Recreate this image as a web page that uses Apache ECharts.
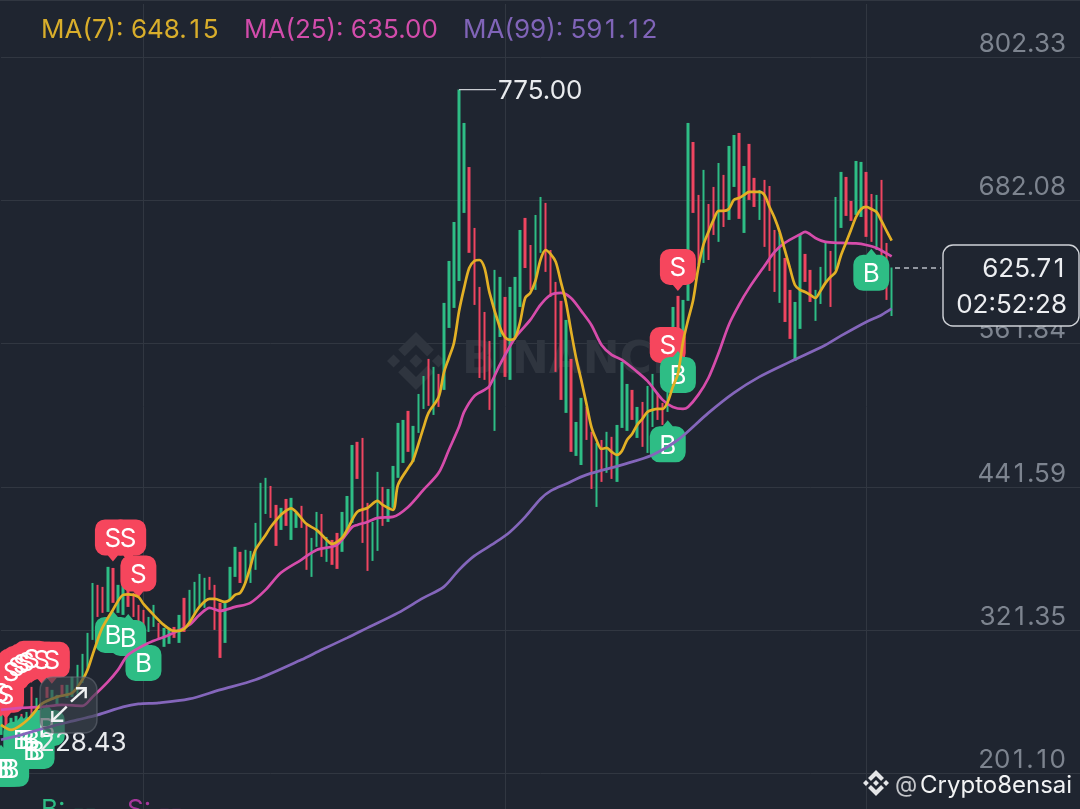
<!DOCTYPE html>
<html><head><meta charset="utf-8">
<style>html,body{margin:0;padding:0;background:#1f2530;overflow:hidden}#c{width:1080px;height:809px}</style>
<script src="https://cdn.jsdelivr.net/npm/echarts@6/dist/echarts.min.js"></script></head>
<body><div id="c"></div>
<script>
// ---------- data ----------
const priceTicks = [201.10, 321.35, 441.59, 561.84, 682.08, 802.33];
const gridCandles = [28, 99, 170];
const slotCount = 213;
const categories = Array.from({length: slotCount}, (_, i) => String(i));

const barSides = ("GRGGRGRGGR GGRGGGGGGR RGRGGRRRRG GRGGRGRGGG GRRRGGGRGG GGGRRGRGGR RGGRGRRGGG RRRGGRGGGG RGGGRGRGGG GGRRRRRGGR " +
                  "GGGRRGGRRR RGRGGRRGRG RGGGRGRGGR RGGRGGRRGR RGRGGRGRRG RRRGRRGGRR GGGRGGRRGG RRGRRG").replace(/ /g, "");
const barHigh = [
252.8,250.3,247.8,249.5,251.1,252.8,273.8,264.6,257,273.8,
271.3,267.1,275.5,275.5,282.2,292.3,301.5,319.1,361,359.4,
357.7,374.5,373.6,359.4,359.4,355.2,352.7,342.6,338.4,332.5,
342.6,327.5,323.3,323.3,324.1,334.2,348.5,355.2,361.9,368.6,
365.3,366.1,359.4,344.3,344.3,374.5,391.3,387.1,388.8,387.9,
411.4,445,449.2,442.4,426.5,424,431.5,432.4,419.8,425.7,
409.7,398.8,420.6,418.9,399.6,397.1,403,420.6,434,476.8,
479.4,482.7,428.2,412.2,454.2,441.6,439.9,459.2,495.3,497.8,
505.4,492.8,519.6,534.7,549,542.3,536.4,596,631.2,663.9,
775,747,710,658.9,609.4,588.4,564.1,623.7,617.8,601,
609.4,617.8,657.2,667.3,644.6,669.8,684.9,679.9,640.4,613.6,
597.7,581.7,549,496.1,516.3,508.7,487.8,478.5,481,487.8,
483.6,493.6,546.5,528,523,508.7,512.9,526.3,536.4,520.5,
512.1,535.6,592.6,601.9,598.5,747,731,686.6,707.6,679,
693.3,713.4,703.4,727.7,736.9,738.6,710.9,729.4,700.9,690.8,
699.2,694.1,657.2,654.7,633.7,606.9,596.8,653,637.1,623.7,
606.9,626.2,646.3,639.6,684.9,705.9,701.7,681.5,715.1,714.3,
705.9,687.4,686.6,699.2,646.3,625.71];
const barLow = [
233.5,228.43,237.7,239.4,240.2,241.9,248.6,250.3,246,264.6,
262.9,258.7,265.4,264.6,265.4,267.1,277.2,288,313.2,332.5,
335.9,336.7,344.3,335.9,334.2,340.9,332.5,327.5,323.3,319.9,
324.1,313.2,307.4,309.9,314.9,310.7,319.9,327.5,334.2,340.9,
340.1,355.2,321.6,298.1,310.7,346.8,366.1,361,361,361,
372,395.5,418.9,415.6,392.1,405.5,408.9,397.1,407.2,407.2,
372,366.1,391.3,382.9,378.7,376.2,372.8,387.1,405.5,411.4,
448.3,394.6,371.1,379.5,387.9,408.9,412.2,424,449.2,461.7,
471,462.6,486.9,507,509.6,502,508.7,523,575,591.8,
614.4,671.5,638,594.3,533,531.4,506.2,488.6,567.4,533.9,
531.4,567.4,592.6,625.3,606.9,606.9,638,622,601,538.1,
514.6,503.7,471,467.6,460,481,439.9,424.8,445.8,453.4,
448.3,445.8,491.1,488.6,497.8,482.7,475.2,470.1,491.9,497.8,
493.6,504.5,545.6,560.7,550.7,597.7,671.5,627.9,629.5,632,
653,647.2,659.7,665.6,693.3,666.5,654.7,682.4,676.5,665.6,
643,622.8,605.2,596,580,565.8,547.3,574.2,613.6,596.8,
580.9,595.1,612.8,592.6,623.7,658.9,669,664.8,669.8,668.1,
651.4,647.2,640.4,634.6,598.5,585];

const ma7 = [[0,241.9],[2,237.7],[4,241.9],[6,249.5],[8,259.5],[11,265.4],[14,268.8],[16,279.7],[17,288],[18,300.7],[19,313.2],[20,324.1],[22,338.4],[24,351],[25,351.4],[27,349.3],[28,343.4],[30,334.2],[32,325.8],[34,320.8],[35,320.8],[36,322.5],[37,327.5],[39,340.9],[41,347.6],[42,347.6],[44,345.1],[45,346.8],[46,351],[47,352.7],[48,361],[49,374.5],[50,388.7],[52,401.3],[53,408],[55,418.1],[57,423.6],[58,420.6],[60,410.6],[62,405.5],[64,397.1],[65,393.8],[67,398.8],[68,405.5],[70,420.6],[72,423.9],[74,429.8],[75,426.5],[77,422.3],[78,443.3],[80,457.5],[81,464.2],[83,491.1],[84,503.7],[86,517.1],[87,537.2],[88,549.8],[89,562.4],[90,589],[91,608.6],[92,625.3],[93,631.2],[94,632],[95,625.3],[96,604.4],[98,575.8],[99,567.4],[100,564.9],[101,566.6],[102,580],[103,600.1],[104,604.4],[105,614.4],[106,632],[107,640.4],[108,637],[109,630.4],[110,613.6],[111,596.8],[112,572.5],[113,549.8],[114,531.4],[115,512],[116,491.9],[117,481],[118,473.5],[119,474.3],[120,471],[121,468.5],[122,471.8],[123,481],[124,486],[125,493.6],[126,498.6],[127,504.5],[128,506.2],[129,507],[130,507],[131,512.9],[132,525.5],[133,536.4],[134,563.2],[135,581.7],[136,598.5],[137,625.3],[138,644.6],[139,655.5],[140,665.6],[141,673.2],[142,673.2],[143,674.8],[144,682.4],[145,684],[146,686.6],[147,689.1],[148,689.1],[149,689.1],[150,686.6],[151,676.5],[152,667.3],[153,655.5],[154,640.4],[155,625.3],[156,611],[157,606.9],[158,605.2],[159,602.7],[160,600.1],[161,606],[162,612.8],[163,617.8],[164,622],[165,635.4],[166,646.3],[167,657.2],[168,668.1],[169,674.8],[170,676.5],[171,674.8],[172,672.3],[173,664.8],[174,656.4],[175,648.15]];
const ma25 = [[0,254.5],[4,256.2],[8,257],[12,258.7],[16,257.9],[18,265.4],[21,278],[23,288.1],[25,300.7],[29,310.7],[33,317.4],[37,325.8],[39,334.2],[41,340.1],[43,337.6],[46,340.9],[49,344.3],[52,355.2],[55,369.5],[59,380.4],[62,388.7],[66,392.9],[69,408],[70,409.7],[72,412.2],[74,415.6],[77,416.4],[80,424.8],[83,439.1],[86,453.4],[88,472.6],[90,492],[91,504.5],[93,517.8],[95,523],[96,526.3],[98,544],[101,566.6],[104,581.7],[106,594.3],[108,602.7],[110,604.4],[112,600.2],[114,589.3],[116,577.5],[118,560.7],[120,552.4],[122,548.2],[125,538.1],[127,530.5],[130,514.6],[132,508.7],[134,507],[135,508.7],[137,518.8],[139,533],[141,554],[143,577.5],[145,594.3],[147,608.6],[150,627],[152,638.8],[154,646.3],[157,653.5],[158,655.6],[160,650.5],[162,647.2],[165,646.3],[168,645.9],[170,644.6],[172,642.1],[175,635]];
const ma99 = [[0,229.4],[4,233.5],[8,238.6],[15,246.1],[19,250.3],[24,257],[27,259.5],[31,260.4],[37,263.7],[43,271.3],[50,279.7],[59,296.5],[63,304.9],[68,314.9],[72,323.3],[78,335.9],[83,348.5],[87,357.7],[90,372],[93,383.7],[97,394.6],[100,403.8],[103,416.4],[106,431.5],[108,438.2],[111,444.1],[115,451.7],[122,460.1],[128,468.4],[133,481],[139,503.7],[144,520.5],[149,533.9],[155,546.5],[162,560.7],[165,568.3],[170,580],[173,585.9],[175,591.12]];

const sellMarks = [[133,626.2],[131,560.7],[22,399.2],[25,399.2],[27,369],[0,268.8],[1,267.1],[2,286.4],[3,290.6],[4,293.1],[5,294.8],[6,297.3],[8,296.5],[10,296.5]];
const buyMarks  = [[131,477.3],[133,535.6],[171,621.2],[22,317.4],[25,314.9],[28,293.9],[9,239.4],[4,229.4],[5,229.4],[6,229.4],[6,220],[7,220],[0,205],[1,205],[2,205]];
const extremes = [[90,775,"775.00",37],[1,228.43,"228.43",0]];

const legendTexts = [["MA(7): 648.15",41,"#d9ae2b"],["MA(25): 635.00",244,"#d24cab"],["MA(99): 591.12",463,"#8064b8"]];
const lastPrice = "625.71", countdown = "02:52:28";

const BG = "#1f2530", UP = "#2ebd85", DOWN = "#ef4560", FONT = "Inter, sans-serif", SIZE = 26;
// reference digits are all one width: give the narrow "1" a full digit cell
const digitCell = { o: { width: SIZE * 0.61, align: "center" } };
const tnum = s => s.replace(/1/g, "{o|1}");
const LOGO_POLYS = [
  [[38.73,53.2],[63.31,28.62],[87.9,53.21],[102.2,38.91],[63.31,0],[24.43,38.88]],
  [[0,63.31],[14.3,49.01],[28.6,63.31],[14.3,77.61]],
  [[38.73,73.41],[63.31,98],[87.9,73.41],[102.21,87.7],[63.31,126.61],[24.43,87.74]],
  [[98.01,63.31],[112.31,49.01],[126.61,63.31],[112.31,77.61]],
  [[77.81,63.3],[63.31,48.79],[48.81,63.3],[63.31,77.8]]
];
const logo = (x, y, size, fill, z) => LOGO_POLYS.map(poly => ({ type: "polygon", z, silent: true,
  shape: { points: poly.map(p => [x + p[0] * size / 126.61, y + p[1] * size / 126.61]) }, style: { fill } }));
const candles = barHigh.map((h, i) => barSides[i] === "G" ? [barLow[i], h, barLow[i], h] : [h, barLow[i], barLow[i], h]);

const bubble = (data, path, color, text, dy, z) => ({
  type: "scatter", data, symbol: path, symbolSize: [36, 42], symbolOffset: [0, dy], z, silent: true,
  itemStyle: { color, opacity: 1 },
  label: { show: true, position: "inside", formatter: text, offset: [0, -dy + 1.5], color: "#fff", fontFamily: FONT, fontSize: SIZE, fontWeight: 400 }
});
const maLine = (data, color) => ({ type: "line", data, smooth: 0.3, showSymbol: false, silent: true, z: 6, lineStyle: { color, width: 2.7 } });

const chart = echarts.init(document.getElementById("c"), null, { renderer: "canvas" });
chart.setOption({
  animation: false,
  backgroundColor: BG,
  grid: { left: 0.95, top: 4, width: 5.094 * (slotCount - 1), height: 805 },
  xAxis: { type: "category", data: categories, boundaryGap: false,
    axisLine: { show: false }, axisTick: { show: false }, axisLabel: { show: false },
    splitLine: { show: true, interval: i => gridCandles.includes(i), lineStyle: { color: "#313741", width: 1 } } },
  yAxis: { type: "value", position: "right", min: 171.33, max: 846.8, scale: true,
    axisLine: { show: false },
    axisTick: { show: false, customValues: priceTicks },
    axisLabel: { inside: true, customValues: priceTicks, formatter: v => tnum(v.toFixed(2)), rich: digitCell, margin: 14, color: "#7d848f", fontFamily: FONT, fontSize: SIZE, verticalAlign: "bottom", lineHeight: 26 },
    splitLine: { show: true, lineStyle: { color: "#313741", width: 1 } } },
  series: [
    { type: "candlestick", data: candles, barWidth: 3, z: 2, silent: true,
      itemStyle: { color: UP, color0: DOWN, borderColor: UP, borderColor0: DOWN, borderWidth: 0 } },
    bubble(sellMarks, "path://M10 0H26A10 10 0 0 1 36 10V26A10 10 0 0 1 26 36H23L18 42L13 36H10A10 10 0 0 1 0 26V10A10 10 0 0 1 10 0Z", "#f6465d", "S", 3, 3),
    bubble(buyMarks, "path://M18 0L23 6H26A10 10 0 0 1 36 16V32A10 10 0 0 1 26 42H10A10 10 0 0 1 0 32V16A10 10 0 0 1 10 6H13Z", "#2ebd85", "B", -3, 4),
    maLine(ma99, "#8466bb"), maLine(ma25, "#d64cab"), maLine(ma7, "#e3b025"),
    { type: "custom", z: 7, silent: true, clip: false, data: extremes, encode: { x: 0, y: 1 },
      renderItem(params, api) {
        const p = api.coord([api.value(0), api.value(1)]), d = extremes[params.dataIndex], len = d[3], off = len || 31;
        const kids = [{ type: "text", style: { x: p[0] + off + 2, y: p[1] + 2, text: d[2], fill: "#e9ebee", font: "400 " + SIZE + "px " + FONT, textAlign: "left", textVerticalAlign: "middle" } }];
        if (len) kids.push({ type: "line", shape: { x1: p[0], y1: p[1], x2: p[0] + len, y2: p[1] }, style: { stroke: "#c9ccd1", lineWidth: 1.3 } });
        return { type: "group", children: kids };
      } }
  ],
  graphic: { elements: [
    { type: "rect", shape: { x: 0, y: 0, width: 1080, height: 1 }, style: { fill: "#313741" }, z: 1 },
    ...logo(387, 332, 58, "#2f353f", 1),
    { type: "text", style: { x: 462, y: 362, text: "BINANCE", fill: "#2f353f", font: "700 44px 'DejaVu Sans', sans-serif", textVerticalAlign: "middle" }, z: 1 },
    ...legendTexts.map(t => ({ type: "text", style: { x: t[1], y: 30, text: tnum(t[0]), rich: digitCell, fill: t[2], font: "400 " + SIZE + "px " + FONT, textVerticalAlign: "middle" }, z: 20 })),
    { type: "text", style: { x: 41, y: 810, text: "B: --", fill: "#2ebd85", font: "400 " + SIZE + "px " + FONT, textVerticalAlign: "middle" }, z: 20 },
    { type: "text", style: { x: 127, y: 810, text: "S: --", fill: "#a6379b", font: "400 " + SIZE + "px " + FONT, textVerticalAlign: "middle" }, z: 20 },
    { type: "line", shape: { x1: 895, y1: 268, x2: 941, y2: 268 }, style: { stroke: "#b8bcc3", lineWidth: 1.3, lineDash: [5, 4] }, z: 20 },
    { type: "rect", shape: { x: 943, y: 245, width: 136, height: 81, r: 10 }, style: { fill: BG, stroke: "#cfd2d7", lineWidth: 1.4 }, z: 20 },
    { type: "text", style: { x: 1067, y: 269.5, text: tnum(lastPrice), rich: digitCell, fill: "#eceef1", font: "400 " + SIZE + "px " + FONT, textAlign: "right", textVerticalAlign: "middle" }, z: 21 },
    { type: "text", style: { x: 1067, y: 305, text: countdown, fill: "#eceef1", font: "400 " + SIZE + "px " + FONT, textAlign: "right", textVerticalAlign: "middle" }, z: 21 },
    { type: "rect", shape: { x: 40, y: 677, width: 57, height: 56, r: 13 }, style: { fill: "rgba(62,67,77,0.62)", stroke: "rgba(110,115,125,0.5)", lineWidth: 1.5 }, z: 22 },
    { type: "polyline", shape: { points: [[71, 701.7], [85.7, 688.3]] }, style: { stroke: "#f0f1f3", lineWidth: 2.4, fill: null }, z: 23 },
    { type: "polyline", shape: { points: [[76, 688.3], [85.7, 688.3], [85.7, 698.3]] }, style: { stroke: "#f0f1f3", lineWidth: 2.4, fill: null }, z: 23 },
    { type: "polyline", shape: { points: [[66.7, 706.7], [52.3, 720.7]] }, style: { stroke: "#f0f1f3", lineWidth: 2.4, fill: null }, z: 23 },
    { type: "polyline", shape: { points: [[52.3, 711], [52.3, 720.7], [63.3, 720.7]] }, style: { stroke: "#f0f1f3", lineWidth: 2.4, fill: null }, z: 23 },
    ...logo(863, 770, 26, "#e4e5e7", 20),
    { type: "text", style: { x: 895, y: 785, text: "@", fill: "#c3c5c9", font: "400 23px " + FONT, textVerticalAlign: "middle" }, z: 20 },
    { type: "text", style: { x: 920, y: 786, text: "Crypto8ensai", fill: "#f2f3f4", font: "400 24px " + FONT, textVerticalAlign: "middle" }, z: 20 }
  ] }
});
</script></body></html>
